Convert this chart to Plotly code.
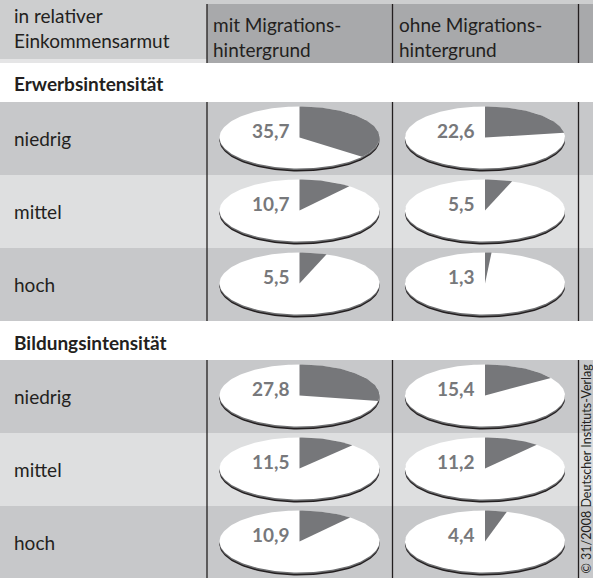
import numpy as np
import plotly.graph_objects as go

# ---------------- data ----------------
header_left = "in relativer<br>Einkommensarmut"
column_headers = ["mit Migrations-<br>hintergrund", "ohne Migrations-<br>hintergrund"]
groups = ["Erwerbsintensität", "Bildungsintensität"]
levels = ["niedrig", "mittel", "hoch"]
mit_migration = [35.7, 10.7, 5.5, 27.8, 11.5, 10.9]
ohne_migration = [22.6, 5.5, 1.3, 15.4, 11.2, 4.4]
series = [mit_migration, ohne_migration]
source = "© 31/2008 Deutscher Instituts-Verlag"

# ---------------- layout constants ----------------
W, H = 593, 578
FONT = "Lato"
TXT = "#231f20"
DARK_ROW = "#c7c8ca"
LIGHT_ROW = "#dedfe0"
HEAD_LEFT = "#cdcecf"
HEAD_COL = "#a8a9ab"
SLICE = "#76777a"
LABEL = "#77787b"

col_lines = [207, 392.5, 578.5]
col_centers = [299.5, 485]
section_tops = [63, 323]
section_h = [39, 37]
row_h = 73
RX, RY = 80, 31

fig = go.Figure()
shapes = []
annotations = []

# header background
shapes.append(dict(type="rect", x0=0, x1=W, y0=0, y1=63, fillcolor=HEAD_LEFT, line_width=0, layer="below"))
shapes.append(dict(type="rect", x0=0, x1=col_lines[0], y0=59, y1=63, fillcolor="#e5e5e6", line_width=0, layer="below"))
shapes.append(dict(type="rect", x0=col_lines[0], x1=W, y0=4, y1=63, fillcolor=HEAD_COL, line_width=0, layer="below"))
for xl in col_lines:
    shapes.append(dict(type="line", x0=xl, x1=xl, y0=4, y1=63, line=dict(color=TXT, width=1.3)))

annotations.append(dict(x=12, y=28, text=header_left, xanchor="left", yanchor="middle", align="left",
                        showarrow=False, font=dict(family=FONT, size=19, color=TXT)))
for j, ch in enumerate(column_headers):
    annotations.append(dict(x=col_lines[j] + 4, y=37, text=ch, xanchor="left", yanchor="middle", align="left",
                            showarrow=False, font=dict(family=FONT, size=19, color=TXT)))

t = np.linspace(0, 2 * np.pi, 181)


def ellipse(cx, cy):
    return cx + RX * np.sin(t), cy - RY * np.cos(t)


for g, gname in enumerate(groups):
    st = section_tops[g]
    annotations.append(dict(x=12, y=st + section_h[g] / 2 + 1, text=f"<b>{gname}</b>", xanchor="left",
                            yanchor="middle", showarrow=False, font=dict(family=FONT, size=19, color=TXT)))
    body_top = st + section_h[g]
    body_bottom = min(body_top + row_h * len(levels), H)
    for i, lev in enumerate(levels):
        y0 = body_top + i * row_h
        y1 = min(y0 + row_h, H)
        shapes.append(dict(type="rect", x0=0, x1=W, y0=y0, y1=y1,
                           fillcolor=LIGHT_ROW if i == 1 else DARK_ROW, line_width=0, layer="below"))
        annotations.append(dict(x=12, y=y0 + row_h / 2, text=lev, xanchor="left", yanchor="middle",
                                showarrow=False, font=dict(family=FONT, size=19, color=TXT)))
        cy = y0 + row_h / 2 - 1
        for j, vals in enumerate(series):
            v = vals[g * len(levels) + i]
            cx = col_centers[j]
            # disk edge
            ex, ey = ellipse(cx, cy + 3)
            fig.add_trace(go.Scatter(x=ex, y=ey, fill="toself", fillcolor="#231f20", mode="lines",
                                     line=dict(width=0), hoverinfo="skip", showlegend=False))
            ex, ey = ellipse(cx, cy + 1.5)
            fig.add_trace(go.Scatter(x=ex, y=ey, fill="toself", fillcolor="#6d6e70", mode="lines",
                                     line=dict(width=0), hoverinfo="skip", showlegend=False))
            ex, ey = ellipse(cx, cy)
            fig.add_trace(go.Scatter(x=ex, y=ey, fill="toself", fillcolor="white", mode="lines",
                                     line=dict(width=0), hoverinfo="skip", showlegend=False))
            # slice
            ang = np.linspace(0, 2 * np.pi * v / 100, max(int(v * 2), 3))
            sx = np.concatenate([[cx], cx + RX * np.sin(ang), [cx]])
            sy = np.concatenate([[cy], cy - RY * np.cos(ang), [cy]])
            fig.add_trace(go.Scatter(x=sx, y=sy, fill="toself", fillcolor=SLICE, mode="lines",
                                     line=dict(width=0), hoverinfo="skip", showlegend=False))
            annotations.append(dict(x=cx - 8, y=cy - 7.5, text="<b>" + f"{v:.1f}".replace(".", ",") + "</b>",
                                    xanchor="right", yanchor="middle", showarrow=False,
                                    font=dict(family=FONT, size=19, color=LABEL)))
    for xl in col_lines:
        shapes.append(dict(type="line", x0=xl, x1=xl, y0=body_top, y1=body_bottom,
                           line=dict(color=TXT, width=1.3)))

annotations.append(dict(x=585.5, y=576, text=source, textangle=-90, xanchor="center", yanchor="bottom",
                        showarrow=False, font=dict(family=FONT, size=12.5, color=TXT)))

fig.update_layout(
    width=W, height=H, margin=dict(l=0, r=0, t=0, b=0),
    paper_bgcolor="white", plot_bgcolor="white",
    xaxis=dict(range=[0, W], visible=False, fixedrange=True),
    yaxis=dict(range=[H, 0], visible=False, fixedrange=True),
    shapes=shapes, annotations=annotations, showlegend=False,
)
fig.write_html("out.html", config=dict(displayModeBar=False))
